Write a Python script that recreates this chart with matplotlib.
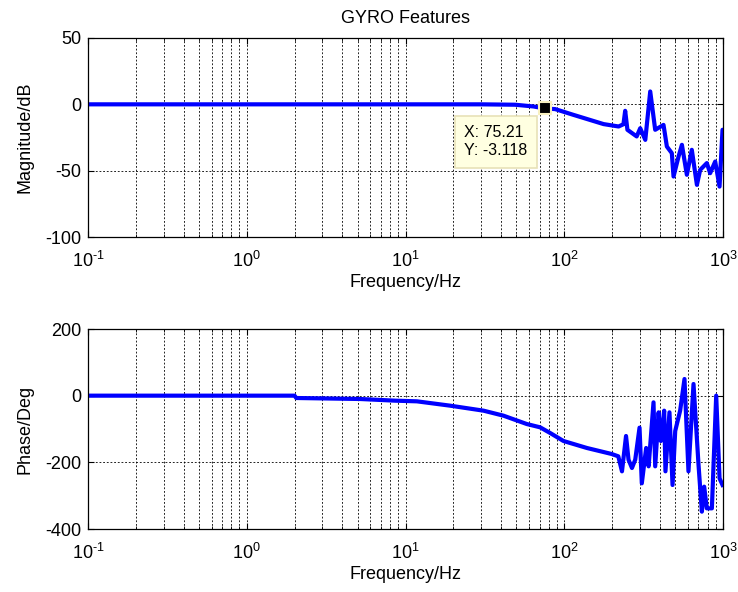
import matplotlib
matplotlib.use("Agg")
import matplotlib.pyplot as plt
import numpy as np
from matplotlib.ticker import LogLocator, FixedLocator, FixedFormatter

plt.rcParams['font.family'] = ['Liberation Sans', 'DejaVu Sans']
plt.rcParams['font.size'] = 13
plt.rcParams['axes.unicode_minus'] = False
plt.rcParams['mathtext.fontset'] = 'custom'
plt.rcParams['mathtext.rm'] = 'Liberation Sans'
plt.rcParams['mathtext.it'] = 'Liberation Sans'
plt.rcParams['mathtext.bf'] = 'Liberation Sans'

# Magnitude data (Hz, dB)
mag_freq = [0.1, 1, 10, 30, 49, 64, 75.21, 87.7, 114, 177, 220, 236, 242, 250, 286,
            301, 324, 348, 374, 422, 443, 476, 488, 525, 551, 592, 636, 685, 718,
            791, 830, 893, 951, 993, 1000]
mag_db = [0, 0, 0, 0, -0.3, -1.6, -3.118, -3.6, -7.9, -14.9, -16.7, -15, -4.9, -19.2, -24.2,
          -18, -26.8, 9.7, -19.2, -15.5, -31.8, -36.8, -54.4, -39.3, -30.5, -53.1, -34.3, -60.7, -49.4,
          -44.3, -51.9, -43.1, -62, -19.2, -19.2]

# Phase data (Hz, deg)
ph_freq = [0.1, 2.0, 2.05, 5.18, 8.6, 11.8, 19.1, 31, 41.4, 58, 70.5, 81.5, 98.9, 139, 199,
           219, 231, 245, 254, 267, 280, 298, 308, 328, 340, 365, 374, 393, 406, 426, 434,
           460, 481, 500, 537, 572, 606, 652, 701, 736, 761, 791, 851, 906, 951, 993]
ph_deg = [0, 0, -7, -10, -15, -17, -30, -45, -60, -85, -95, -112, -136, -157, -175,
          -182, -227, -121, -192, -217, -192, -96, -263, -157, -212, -20, -212, -50, -136, -45, -227,
          -50, -268, -106, -45, 50, -227, 35, -207, -348, -273, -338, -338, 0, -248, -268]

xtick_vals = [0.1, 1, 10, 100, 1000]
xtick_labels = [r'$\mathdefault{10^{\text{-}1}}$', r'$\mathdefault{10^{0}}$',
                r'$\mathdefault{10^{1}}$', r'$\mathdefault{10^{2}}$', r'$\mathdefault{10^{3}}$']

tip_x = 75.21
tip_y = -3.118

fig = plt.figure(figsize=(7.38, 5.92), dpi=100)
W, H = 738, 592
ax1 = fig.add_axes([88 / W, 1 - 237 / H, (723 - 88) / W, (237 - 38) / H])
ax2 = fig.add_axes([88 / W, 1 - 529 / H, (723 - 88) / W, (529 - 329) / H])

blue = '#0000ff'
for ax in (ax1, ax2):
    ax.set_xscale('log')
    ax.set_xlim(0.1, 1000)
    ax.xaxis.set_major_locator(FixedLocator(xtick_vals))
    ax.xaxis.set_major_formatter(FixedFormatter(xtick_labels))
    ax.xaxis.set_minor_locator(LogLocator(base=10, subs=np.arange(2, 10), numticks=20))
    ax.grid(True, which='major', color='black', linestyle=(0, (2.2, 2.2)), linewidth=0.6)
    ax.grid(True, which='minor', axis='x', color='black', linestyle=(0, (2.2, 2.2)), linewidth=0.6)
    ax.tick_params(which='both', direction='in', top=True, right=True, labelsize=13)
    ax.tick_params(which='major', length=4)
    ax.tick_params(which='minor', length=2)
    ax.tick_params(axis='x', which='both', pad=10)
    ax.tick_params(axis='y', which='both', pad=5)
    ax.set_xlabel('Frequency/Hz', fontsize=13, labelpad=2)
    for s in ax.spines.values():
        s.set_linewidth(0.9)
    ax.set_axisbelow(True)

ax1.plot(mag_freq, mag_db, color=blue, linewidth=3.0, solid_joinstyle='round')
ax1.set_ylim(-100, 50)
ax1.yaxis.set_major_locator(FixedLocator([-100, -50, 0, 50]))
ax1.set_ylabel('Magnitude/dB', fontsize=13, labelpad=8)
ax1.set_title('GYRO Features', fontsize=13, pad=11)

ax1.plot([tip_x], [tip_y], marker='s', markersize=8, markerfacecolor='black',
         markeredgecolor='#f8f0c0', markeredgewidth=1.5, linestyle='none', zorder=5)
ax1.annotate('X: %.2f\nY: %.3f' % (tip_x, tip_y), xy=(tip_x, tip_y), xycoords='data',
             xytext=(-17, -17), textcoords='offset pixels', ha='right', va='top',
             multialignment='left', fontsize=11.5, linespacing=1.25,
             bbox=dict(boxstyle='square,pad=0.6', facecolor='#ffffe1', edgecolor='#e8e2b8', linewidth=1.2),
             zorder=6)

ax2.plot(ph_freq, ph_deg, color=blue, linewidth=3.0, solid_joinstyle='round')
ax2.set_ylim(-400, 200)
ax2.yaxis.set_major_locator(FixedLocator([-400, -200, 0, 200]))
ax2.set_ylabel('Phase/Deg', fontsize=13, labelpad=8)

fig.savefig('out.png', dpi=100)
